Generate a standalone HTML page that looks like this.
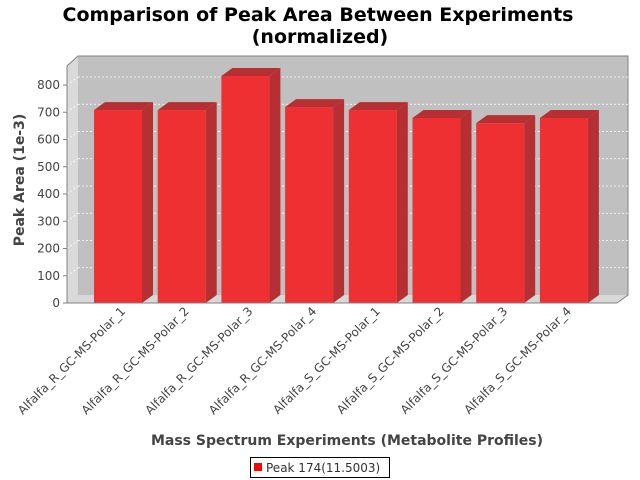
<!DOCTYPE html>
<html><head><meta charset="utf-8"><style>
body{margin:0;background:#fff;}
svg{display:block;font-family:"DejaVu Sans","Liberation Sans",sans-serif;}
</style></head><body>
<svg id="chart" width="640" height="480" viewBox="0 0 640 480">
<text x="318" y="21" text-anchor="middle" font-size="19" font-weight="bold" fill="#000">Comparison of Peak Area Between Experiments</text>
<text x="320" y="43" text-anchor="middle" font-size="19" font-weight="bold" fill="#000">(normalized)</text>
<polygon points="67,66 78,56 628,56 628,295 617,303 67,303" fill="#c0c0c0"/>
<polygon points="67,66 78,56 78,295 67,303" fill="#dadada"/>
<polygon points="67,303 78,295 628,295 617,303" fill="#d8d8d8"/>
<polyline points="67,66 78,56 628,56 628,295 617,303" fill="none" stroke="#808080" stroke-width="1"/>
<g id="grid"></g>
<g id="bars"></g>
<line x1="67" y1="66" x2="67" y2="303" stroke="#808080"/>
<line x1="67" y1="303" x2="617" y2="303" stroke="#808080"/>
<g id="yticks"></g>
<g id="xlabels"></g>
<text transform="translate(24,180) rotate(-90)" text-anchor="middle" font-size="14" font-weight="bold" fill="#444">Peak Area (1e-3)</text>
<text x="347" y="445" text-anchor="middle" font-size="14" font-weight="bold" fill="#444">Mass Spectrum Experiments (Metabolite Profiles)</text>
<g>
<rect x="250.5" y="457.5" width="139" height="20" fill="#fff" stroke="#000"/>
<rect x="254" y="463" width="8" height="8" fill="#f00"/>
<text x="266" y="472" font-size="12" fill="#333">Peak 174(11.5003)</text>
</g>
</svg>
<script>
const categories=["Alfalfa_R_GC-MS-Polar_1","Alfalfa_R_GC-MS-Polar_2","Alfalfa_R_GC-MS-Polar_3","Alfalfa_R_GC-MS-Polar_4","Alfalfa_S_GC-MS-Polar_1","Alfalfa_S_GC-MS-Polar_2","Alfalfa_S_GC-MS-Polar_3","Alfalfa_S_GC-MS-Polar_4"];
const values=[708,708,833,719,708,679,660,679];
const yTicks=[0,100,200,300,400,500,600,700,800];
const NS="http://www.w3.org/2000/svg";
const DX=11,DY=8;
function y(v){return 303-v*0.2725;}
function xc(i){return 118+i*63.7;}
function mk(t,a,p){const e=document.createElementNS(NS,t);for(const k in a)e.setAttribute(k,a[k]);p.appendChild(e);return e;}
const grid=document.getElementById('grid'),yt=document.getElementById('yticks'),bars=document.getElementById('bars'),xl=document.getElementById('xlabels');
yTicks.forEach(v=>{
  const yy=y(v);
  if(v>0){
    const g=mk('line',{x1:78,y1:yy-DY,x2:628,y2:yy-DY,stroke:'#fff','stroke-dasharray':'2,2','stroke-width':0.8},grid);
    
    
    const g2=mk('line',{x1:67,y1:yy,x2:78,y2:yy-DY,stroke:'#fff','stroke-dasharray':'2,2','stroke-width':0.8},grid);
    
    
  }
  const tk=mk('line',{x1:63,y1:yy,x2:67,y2:yy,stroke:'#808080'},yt);
  
  
  const t=mk('text',{x:60,y:yy+4,'text-anchor':'end','font-size':12,fill:'#444'},yt);
  t.textContent=v;
  
  
});
values.forEach((v,i)=>{
  const l=xc(i)-24,r=xc(i)+24,top=y(v),b=303;
  const g=mk('g',{},bars);
  
  
  mk('polygon',{points:`${r},${b} ${r+DX},${b-DY} ${r+DX},${top-DY} ${r},${top}`,fill:'#b52f33'},g);
  mk('polygon',{points:`${l},${top} ${l+DX},${top-DY} ${r+DX},${top-DY} ${r},${top}`,fill:'#b52f33'},g);
  mk('rect',{x:l,y:top,width:48,height:b-top,fill:'#ee3033'},g);
  const t=mk('text',{transform:`translate(${xc(i)+8},312) rotate(-45)`,'text-anchor':'end','font-size':12,fill:'#444'},xl);
  t.textContent=categories[i];
  
  
});
</script>
</body></html>
